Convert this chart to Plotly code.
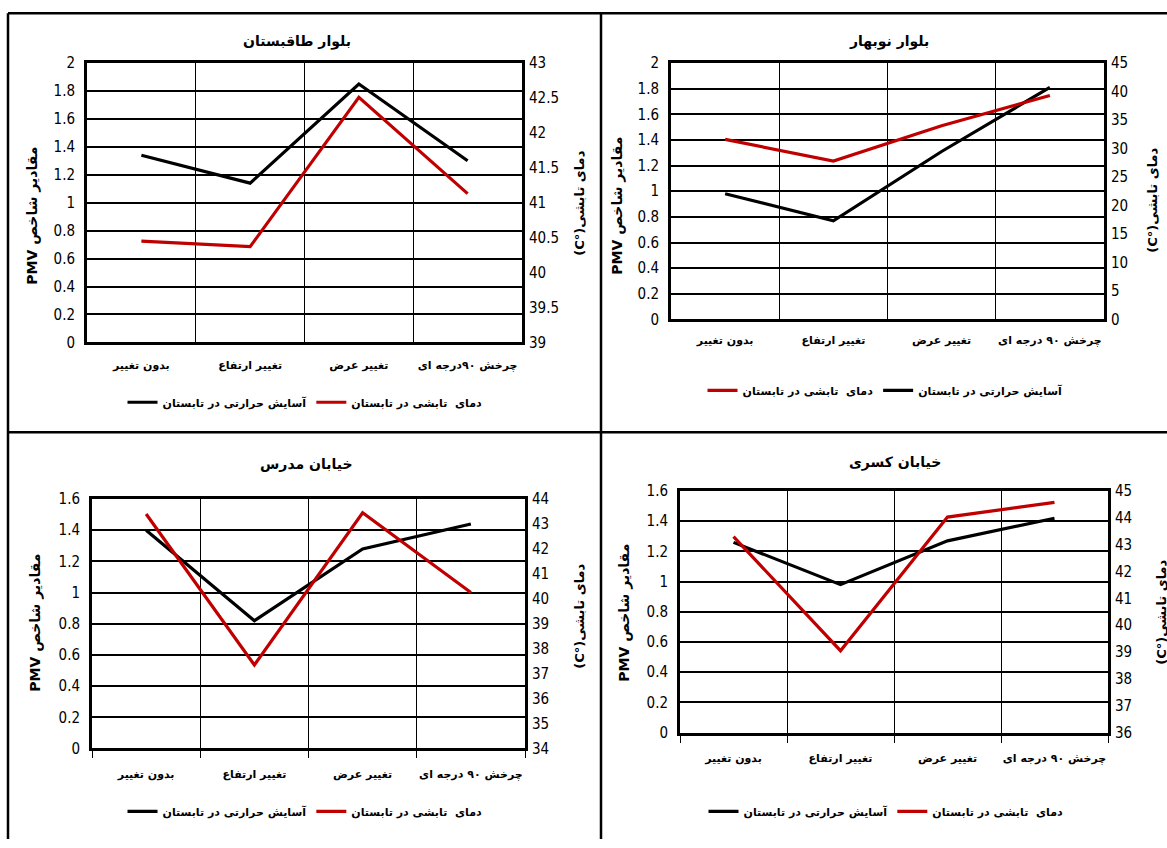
import plotly.graph_objects as go

W, H = 1167, 848

categories = ["بدون تغییر", "تغییر ارتفاع", "تغییر عرض", "چرخش ۹۰ درجه ای"]
categories_p1 = ["بدون تغییر", "تغییر ارتفاع", "تغییر عرض", "چرخش ۹۰درجه ای"]

titles = ["بلوار طاقبستان", "بلوار نوبهار", "خیابان مدرس", "خیابان کسری"]
name_pmv = "آسایش حرارتی در تابستان"
name_temp = "دمای  تابشی در تابستان"
ytitle_left = "مقادیر شاخص PMV"
ytitle_right = "دمای تابشی(°C)"

# PMV values (left axis)
pmv_p1 = [1.34, 1.14, 1.85, 1.30]
pmv_p2 = [0.98, 0.77, 1.31, 1.81]
pmv_p3 = [1.40, 0.82, 1.28, 1.44]
pmv_p4 = [1.26, 0.98, 1.27, 1.42]

# Radiant temperature values (right axis, °C)
temp_p1 = [40.45, 40.37, 42.51, 41.13]
temp_p2 = [31.6, 27.8, 34.0, 39.3]
temp_p3 = [43.4, 37.35, 43.45, 40.25]
temp_p4 = [43.3, 39.05, 44.03, 44.58]

# axis ranges / ticks
left_ranges = [(0, 2, 0.2), (0, 2, 0.2), (0, 1.6, 0.2), (0, 1.6, 0.2)]
right_ranges = [(39, 43, 0.5), (0, 45, 5), (34, 44, 1), (36, 45, 1)]

# pixel layout of each panel (target screen pixels): plot x0, x1, top, bottom
panels = [
    dict(x0=87, x1=522, top=62, bot=342, title=(297, 40), lt=(33, 215), rt=(580, 203),
         leg=(305, 402), standoff=10, cats=categories_p1, ticks=False),
    dict(x0=671, x1=1104, top=62, bot=319, title=(889, 40), lt=(618, 205), rt=(1153, 200),
         leg=(885, 390), standoff=8, cats=categories, ticks=False),
    dict(x0=92, x1=525, top=499, bot=749, title=(306, 464), lt=(36, 623), rt=(580, 617),
         leg=(305, 812), standoff=13, cats=categories, ticks=True),
    dict(x0=680, x1=1108, top=491, bot=733, title=(895, 462), lt=(625, 613), rt=(1162, 613),
         leg=(886, 812), standoff=13, cats=categories, ticks=True),
]

pmv_all = [pmv_p1, pmv_p2, pmv_p3, pmv_p4]
temp_all = [temp_p1, temp_p2, temp_p3, temp_p4]
legend_red_first = [False, True, False, False]

NUM_FONT = dict(family="Liberation Sans Narrow, Arial Narrow, DejaVu Sans Condensed, Liberation Sans",
                size=15, color="black")
AR_FONT = "DejaVu Sans"

# compensation for the observed vertical offset/scale of the rendered page
Y_SCALE = 0.981
Y_OFF = 8.0


def px(x):
    return x / W


def py(y):
    yy = y / Y_SCALE - Y_OFF
    return 1 - yy / H


fig = go.Figure()
layout = dict(
    width=W, height=H,
    margin=dict(l=0, r=0, t=0, b=0),
    paper_bgcolor="white", plot_bgcolor="white",
    showlegend=True,
    annotations=[], shapes=[],
)

for i, p in enumerate(panels):
    n = i + 1
    xname = "x" if n == 1 else f"x{n}"
    yl = 2 * n - 1
    yr = 2 * n
    ylname = "y" if yl == 1 else f"y{yl}"
    yrname = f"y{yr}"
    legname = "legend" if n == 1 else f"legend{n}"
    xs = list(range(len(p["cats"])))

    fig.add_trace(go.Scatter(
        x=xs, y=pmv_all[i], xaxis=xname, yaxis=ylname, mode="lines",
        line=dict(color="black", width=3.2), name=name_pmv, legend=legname,
        legendrank=2 if legend_red_first[i] else 1,
    ))
    fig.add_trace(go.Scatter(
        x=xs, y=temp_all[i], xaxis=xname, yaxis=yrname, mode="lines",
        line=dict(color="#C00000", width=3.2), name=name_temp, legend=legname,
        legendrank=1 if legend_red_first[i] else 2,
    ))

    xkey = "xaxis" if n == 1 else f"xaxis{n}"
    ylkey = "yaxis" if yl == 1 else f"yaxis{yl}"
    yrkey = f"yaxis{yr}"

    minor = dict(tickvals=[0.5, 1.5, 2.5], showgrid=True, gridcolor="black", gridwidth=1)
    if p["ticks"]:
        minor = dict(tickvals=[-0.5, 0.5, 1.5, 2.5, 3.5], showgrid=True, gridcolor="black",
                     gridwidth=1, ticks="outside", ticklen=7, tickwidth=1, tickcolor="black")

    layout[xkey] = dict(
        domain=[px(p["x0"]), px(p["x1"])], anchor=ylname,
        range=[-0.5, 3.5], tickmode="array", tickvals=xs, ticktext=p["cats"],
        showgrid=False, zeroline=False, ticks="",
        showline=True, linecolor="black", linewidth=3, mirror=True,
        tickfont=dict(family=AR_FONT, size=11, color="black", weight="bold"),
        ticklabelstandoff=p["standoff"], minor=minor, fixedrange=True,
    )
    lo, hi, dt = left_ranges[i]
    layout[ylkey] = dict(
        domain=[py(p["bot"]), py(p["top"])], anchor=xname,
        range=[lo, hi], dtick=dt, tick0=0,
        showgrid=True, gridcolor="black", gridwidth=1.5, zeroline=False,
        showline=True, linecolor="black", linewidth=3, mirror=True,
        ticks="", tickfont=NUM_FONT, ticklabelstandoff=6, fixedrange=True,
    )
    lo2, hi2, dt2 = right_ranges[i]
    layout[yrkey] = dict(
        overlaying=ylname, side="right", anchor=xname,
        range=[lo2, hi2], dtick=dt2, tick0=lo2,
        showgrid=False, zeroline=False, showline=False,
        ticks="", tickfont=NUM_FONT, ticklabelstandoff=6, fixedrange=True,
    )

    layout[legname] = dict(
        orientation="h", x=px(p["leg"][0]), y=py(p["leg"][1]),
        xanchor="center", yanchor="middle", xref="paper", yref="paper",
        bgcolor="rgba(0,0,0,0)", itemwidth=30, traceorder="normal",
        font=dict(family=AR_FONT, size=11, color="black", weight="bold"),
        tracegroupgap=0,
    )

    tx, ty = p["title"]
    layout["annotations"].append(dict(
        x=px(tx), y=py(ty), xref="paper", yref="paper", text=titles[i], showarrow=False,
        xanchor="center", yanchor="middle",
        font=dict(family=AR_FONT, size=14, color="black", weight="bold"),
    ))
    lx, ly = p["lt"]
    layout["annotations"].append(dict(
        x=px(lx), y=py(ly), xref="paper", yref="paper",
        text="\u202b" + ytitle_left + "\u202c", showarrow=False, textangle=-90,
        xanchor="center", yanchor="middle",
        font=dict(family=AR_FONT, size=14, color="black", weight="bold"),
    ))
    rx, ry = p["rt"]
    layout["annotations"].append(dict(
        x=px(rx), y=py(ry), xref="paper", yref="paper",
        text="\u202b" + ytitle_right + "\u202c", showarrow=False, textangle=-90,
        xanchor="center", yanchor="middle",
        font=dict(family=AR_FONT, size=13, color="black", weight="bold"),
    ))

# panel frame lines
frame = dict(type="line", xref="paper", yref="paper", line=dict(color="black", width=2.5))
layout["shapes"] = [
    dict(frame, x0=px(8), x1=1, y0=py(12), y1=py(12)),
    dict(frame, x0=px(8), x1=px(8), y0=py(12), y1=0),
    dict(frame, x0=px(601), x1=px(601), y0=py(12), y1=0),
    dict(frame, x0=px(8), x1=1, y0=py(432), y1=py(432)),
]

fig.update_layout(**layout)

post = """
document.documentElement.style.margin='0';
document.documentElement.style.padding='0';
document.documentElement.style.overflow='hidden';
document.body.style.margin='0';
document.body.style.padding='0';
document.body.style.overflow='hidden';
var gd = document.querySelector('.plotly-graph-div');
if (gd) { gd.style.position='absolute'; gd.style.left='0px'; gd.style.top='0px'; }
"""
fig.write_html("out.html", config={"displayModeBar": False}, post_script=post)
